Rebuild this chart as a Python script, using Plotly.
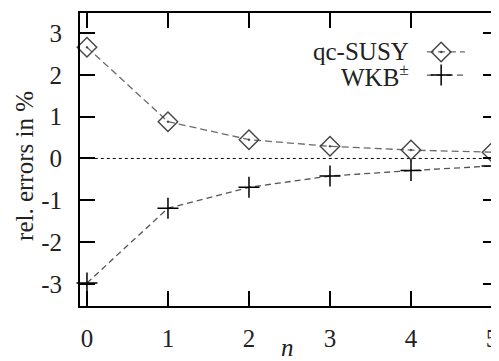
import plotly.graph_objects as go

n = [0, 1, 2, 3, 4, 5]
qc_susy = [2.66, 0.88, 0.45, 0.29, 0.20, 0.15]
wkb = [-2.98, -1.19, -0.69, -0.42, -0.29, -0.18]
x_ticks = [0, 1, 2, 3, 4, 5]
y_ticks = [-3, -2, -1, 0, 1, 2, 3]
series_names = ["qc-SUSY", "WKB<sup>±</sup>"]

FONT = "Times New Roman, Liberation Serif, serif"
TXT = "#222222"

fig = go.Figure()

# zero reference line
fig.add_trace(go.Scatter(x=[-0.2, 5.3], y=[0, 0], mode="lines",
                         line=dict(color="black", width=1, dash="3px,3px"),
                         hoverinfo="skip", showlegend=False))

fig.add_trace(go.Scatter(x=n, y=qc_susy, mode="lines+markers", name=series_names[0],
                         line=dict(color="#6a6a6a", width=1.3, dash="7px,4px"),
                         marker=dict(symbol="diamond-open-dot", size=15, color="#444444",
                                     line=dict(width=1.4, color="#444444")),
                         cliponaxis=False, showlegend=False))
fig.add_trace(go.Scatter(x=n, y=wkb, mode="lines+markers", name=series_names[1],
                         line=dict(color="#555555", width=1.3, dash="6px,4px"),
                         marker=dict(symbol="cross-thin-open", size=15, color="black",
                                     line=dict(width=1.5, color="black")),
                         cliponaxis=False, showlegend=False))

# legend samples on an overlay axis spanning the plot area (0..1)
leg_y = [0.867, 0.788]
leg_line_x = [0.830, 0.921]
leg_mark_x = 0.864
fig.add_trace(go.Scatter(x=leg_line_x, y=[leg_y[0]] * 2, xaxis="x2", yaxis="y2", mode="lines",
                         line=dict(color="#6a6a6a", width=1.3, dash="7px,4px"),
                         showlegend=False, hoverinfo="skip"))
fig.add_trace(go.Scatter(x=[leg_mark_x], y=[leg_y[0]], xaxis="x2", yaxis="y2", mode="markers",
                         marker=dict(symbol="diamond-open-dot", size=15, color="#444444",
                                     line=dict(width=1.4, color="#444444")),
                         showlegend=False, hoverinfo="skip"))
fig.add_trace(go.Scatter(x=leg_line_x, y=[leg_y[1]] * 2, xaxis="x2", yaxis="y2", mode="lines",
                         line=dict(color="#555555", width=1.3, dash="6px,4px"),
                         showlegend=False, hoverinfo="skip"))
fig.add_trace(go.Scatter(x=[leg_mark_x], y=[leg_y[1]], xaxis="x2", yaxis="y2", mode="markers",
                         marker=dict(symbol="cross-thin-open", size=15, color="black",
                                     line=dict(width=1.5, color="black")),
                         showlegend=False, hoverinfo="skip"))

for name, yy in zip(series_names, leg_y):
    fig.add_annotation(x=0.792, y=yy, xref="paper", yref="paper", text=name,
                       showarrow=False, xanchor="right", yanchor="middle",
                       font=dict(family=FONT, size=25, color=TXT))

# axis titles
fig.add_annotation(x=-0.1316, y=0.478, xref="paper", yref="paper", text="rel. errors in %",
                   textangle=-90, showarrow=False, xanchor="center", yanchor="middle",
                   font=dict(family=FONT, size=25, color=TXT))
fig.add_annotation(x=0.497, y=-0.143, xref="paper", yref="paper", text="<i>n</i>",
                   showarrow=False, xanchor="center", yanchor="middle",
                   font=dict(family=FONT, size=25, color=TXT))

axis_common = dict(showgrid=False, zeroline=False, showline=True, linecolor="black",
                   linewidth=2, mirror="ticks", ticks="inside", ticklen=15,
                   tickwidth=2, tickcolor="black", automargin=False,
                   tickfont=dict(family=FONT, size=25, color=TXT))

# page body has an 8px margin, so the figure is sized/offset to compensate
fig.update_layout(
    width=491, height=353,
    margin=dict(l=72, r=1, t=5, b=55),
    paper_bgcolor="white", plot_bgcolor="white",
    xaxis=dict(range=[-0.086, 5.074], tickvals=x_ticks, ticktext=[str(v) for v in x_ticks],
               ticklabelstandoff=9, **axis_common),
    yaxis=dict(range=[-3.53, 3.48], tickvals=y_ticks, ticktext=[str(v) for v in y_ticks],
               ticklabelstandoff=11, **axis_common),
    xaxis2=dict(overlaying="x", range=[0, 1], visible=False, fixedrange=True),
    yaxis2=dict(overlaying="y", range=[0, 1], visible=False, fixedrange=True),
)

fig.write_html("out.html")
